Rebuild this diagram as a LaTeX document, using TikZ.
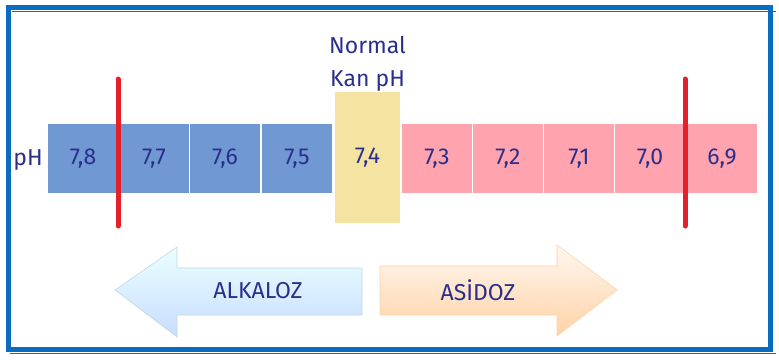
\documentclass[tikz,border=0pt]{standalone}
\usepackage{fontspec}
\setmainfont{Fira Sans}
\usepackage{tikz}
\usetikzlibrary{shapes,arrows,backgrounds,positioning,fit}

\definecolor{FrameBlue}{HTML}{0A6CC0}
\definecolor{CellBlue}{HTML}{7098D2}
\definecolor{CellPink}{HTML}{FFA3AE}
\definecolor{CellYellow}{HTML}{F5E3A2}
\definecolor{InkBlue}{HTML}{2B2F8C}
\definecolor{LimitRed}{HTML}{E5202A}

\begin{document}
\begin{tikzpicture}[x=1pt,y=-1pt]
			\tikzstyle{Cell}	= [rectangle, minimum width=70pt, minimum height=69pt, inner sep=0pt, text=InkBlue, font=\fontsize{23}{27}\selectfont]
			\tikzstyle{Alk}		= [Cell, fill=CellBlue]
			\tikzstyle{Acid}	= [Cell, fill=CellPink]
			\tikzstyle{Label}	= [text=InkBlue, font=\fontsize{23}{27}\selectfont, inner sep=0pt]
			\tikzstyle{Limit}	= [line width=5pt, LimitRed, line cap=round]
			\tikzstyle{Frame}	= [FrameBlue]

			\useasboundingbox (0,0) rectangle (779,362);
			\draw (8,7.5) rectangle (770.5,349.5) [Frame, line width=5pt];
			\draw (12,11.5) -- (776,11.5) [Frame, line width=1.5pt];
			\draw (10,353.5) -- (776,353.5) [Frame, line width=1.5pt];

			\node (ph) at (28,160) [Label] {pH};
			\foreach \n/\x/\v in {1/83/{7,8}, 2/154/{7,7}, 3/225/{7,6}, 4/297/{7,5}}
				\node (c\n) at (\x, 158.5) [Alk] {\v};
			\node (c5) at (367.5, 157.5) [Cell, fill=CellYellow, minimum width=65pt, minimum height=131pt] {7,4};
			\foreach \n/\x/\v in {6/437/{7,3}, 7/508/{7,2}, 8/579/{7,1}, 9/650/{7,0}, 10/722/{6,9}}
				\node (c\n) at (\x, 158.5) [Acid] {\v};
			\node (normal) at (367.5, 64) [Label, align=center, font=\fontsize{23}{33}\selectfont] {Normal\\Kan pH};

			% limits of the range
			\foreach \n/\x in {a/118, b/685} {
				\coordinate (top\n) at (\x, 79);
				\coordinate (bot\n) at (\x, 226);
				\draw (top\n) -- (bot\n) [Limit];
			}

			% direction arrows
			\shade [top color=cyan!8, bottom color=cyan!40!blue!22, draw=cyan!30!gray!40, line width=0.6pt]
				(115,290) -- (177,247) -- (177,268) -- (362,268) -- (362,315) -- (177,315) -- (177,337) -- cycle;
			\node (alk) at (258,291) [Label] {ALKALOZ};
			\shade [top color=orange!6, bottom color=orange!35!white, draw=orange!35!white, line width=0.6pt]
				(617,290) -- (557,245) -- (557,266) -- (380,266) -- (380,315) -- (557,315) -- (557,336) -- cycle;
			\node (asi) at (478,290) [Label] {ASİDOZ};
		\end{tikzpicture}
\end{document}
